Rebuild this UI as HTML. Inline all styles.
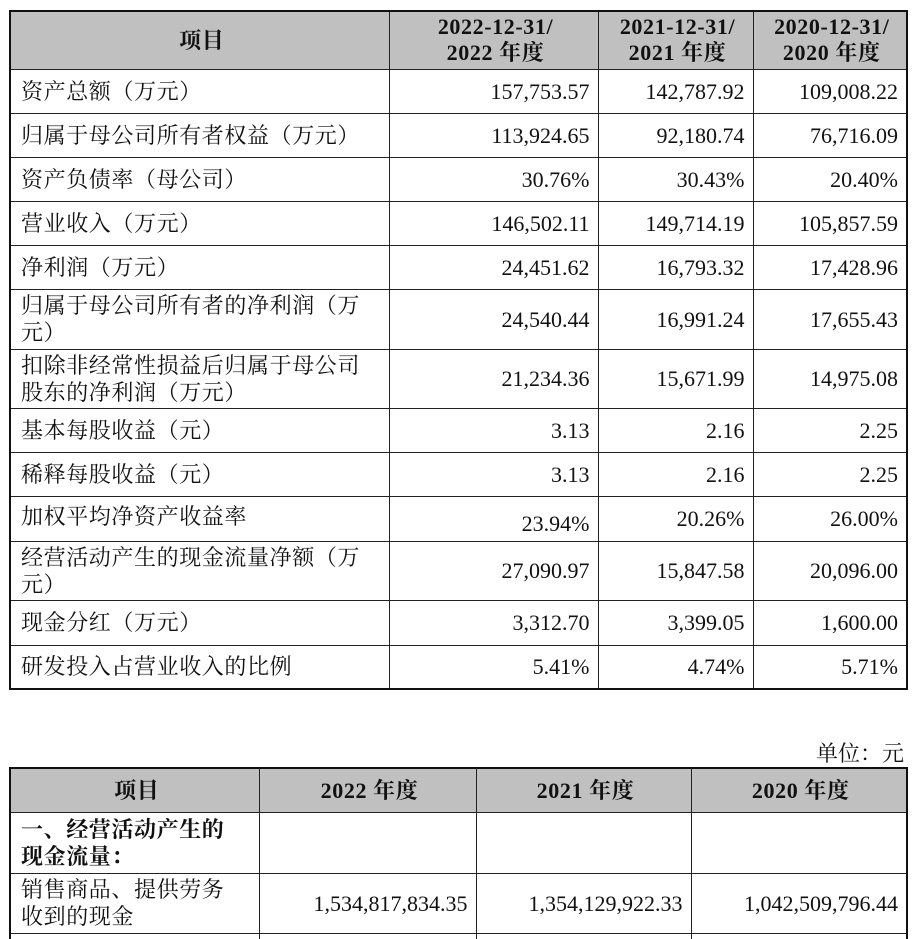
<!DOCTYPE html>
<html><head><meta charset="utf-8"><style>
html,body{margin:0;width:916px;height:939px;overflow:hidden}
body{background:#fff;position:relative;font-family:"Liberation Serif","Noto Serif CJK SC",serif;color:#111}
table{position:absolute;border-collapse:collapse;table-layout:fixed}
td{border:1.5px solid #222;padding:0 6px 0 10px;font-size:22px;line-height:27px;letter-spacing:0.6px;overflow:hidden}
.h td{background:#c0c0c0;font-weight:bold;text-align:center;font-size:22px}
td.n{text-align:right;letter-spacing:0;font-size:22px;padding-right:8px}
#t1{left:9px;top:10px;width:897px;border:2.5px solid #111}
#t2{left:9px;top:767px;width:897px;border:2.5px solid #111}
</style></head><body>
<table id="t1">
<colgroup><col style="width:379px"><col style="width:209px"><col style="width:155px"><col style="width:154px"></colgroup>
<tr class="h" style="height:58px"><td>项目</td><td style="line-height:26px">2022-12-31/<br>2022 年度</td><td style="line-height:26px">2021-12-31/<br>2021 年度</td><td style="line-height:26px">2020-12-31/<br>2020 年度</td></tr>
<tr style="height:44px"><td>资产总额（万元）</td><td class="n">157,753.57</td><td class="n">142,787.92</td><td class="n">109,008.22</td></tr>
<tr style="height:44px"><td>归属于母公司所有者权益（万元）</td><td class="n">113,924.65</td><td class="n">92,180.74</td><td class="n">76,716.09</td></tr>
<tr style="height:44px"><td>资产负债率（母公司）</td><td class="n">30.76%</td><td class="n">30.43%</td><td class="n">20.40%</td></tr>
<tr style="height:44px"><td>营业收入（万元）</td><td class="n">146,502.11</td><td class="n">149,714.19</td><td class="n">105,857.59</td></tr>
<tr style="height:44px"><td>净利润（万元）</td><td class="n">24,451.62</td><td class="n">16,793.32</td><td class="n">17,428.96</td></tr>
<tr style="height:60px"><td>归属于母公司所有者的净利润（万<br>元）</td><td class="n">24,540.44</td><td class="n">16,991.24</td><td class="n">17,655.43</td></tr>
<tr style="height:59px"><td>扣除非经常性损益后归属于母公司<br>股东的净利润（万元）</td><td class="n">21,234.36</td><td class="n">15,671.99</td><td class="n">14,975.08</td></tr>
<tr style="height:44px"><td>基本每股收益（元）</td><td class="n">3.13</td><td class="n">2.16</td><td class="n">2.25</td></tr>
<tr style="height:44px"><td>稀释每股收益（元）</td><td class="n">3.13</td><td class="n">2.16</td><td class="n">2.25</td></tr>
<tr style="height:45px"><td style="vertical-align:top;padding-top:6px">加权平均净资产收益率</td><td class="n" style="vertical-align:bottom;padding-bottom:4px">23.94%</td><td class="n">20.26%</td><td class="n">26.00%</td></tr>
<tr style="height:59px"><td>经营活动产生的现金流量净额（万<br>元）</td><td class="n">27,090.97</td><td class="n">15,847.58</td><td class="n">20,096.00</td></tr>
<tr style="height:45px"><td>现金分红（万元）</td><td class="n">3,312.70</td><td class="n">3,399.05</td><td class="n">1,600.00</td></tr>
<tr style="height:44px"><td>研发投入占营业收入的比例</td><td class="n">5.41%</td><td class="n">4.74%</td><td class="n">5.71%</td></tr>
</table>
<div style="position:absolute;right:12px;top:737px;font-size:22px">单位：元</div>
<table id="t2">
<colgroup><col style="width:249px"><col style="width:217px"><col style="width:215px"><col style="width:216px"></colgroup>
<tr class="h" style="height:44px"><td>项目</td><td>2022 年度</td><td>2021 年度</td><td>2020 年度</td></tr>
<tr style="height:61px"><td style="font-weight:bold">一、经营活动产生的<br>现金流量：</td><td></td><td></td><td></td></tr>
<tr style="height:60px"><td>销售商品、提供劳务<br>收到的现金</td><td class="n">1,534,817,834.35</td><td class="n">1,354,129,922.33</td><td class="n">1,042,509,796.44</td></tr>
<tr style="height:20px"><td></td><td></td><td></td><td></td></tr>
</table>
</body></html>
